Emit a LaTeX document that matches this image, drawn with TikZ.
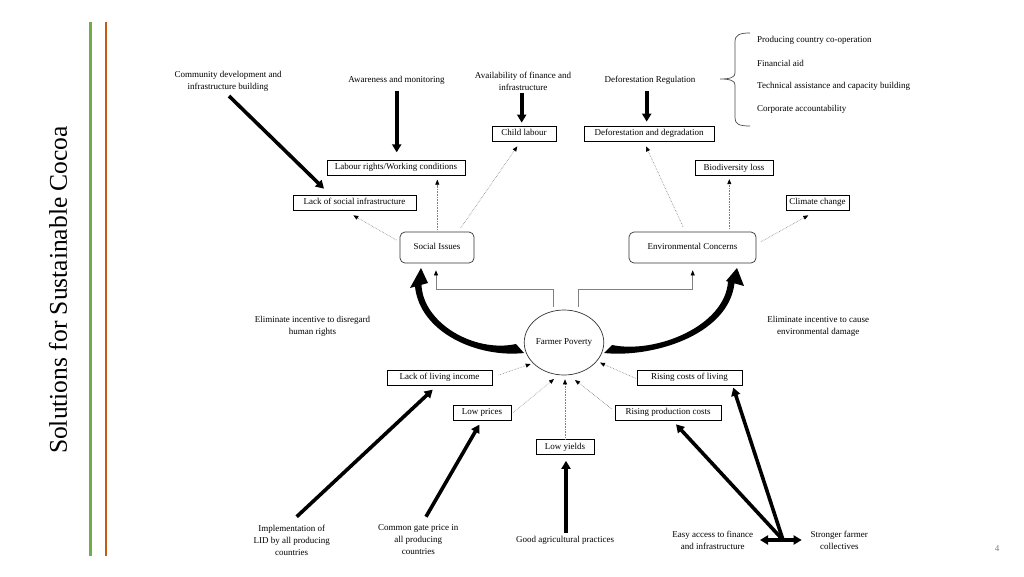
\documentclass[tikz,border=0pt]{standalone}
\usepackage{fontspec}
\setmainfont{Liberation Serif}
\usetikzlibrary{arrows.meta,shapes.geometric,calc}
\definecolor{lgreen}{RGB}{112,173,71}
\definecolor{lorange}{RGB}{197,90,17}
\begin{document}
\begin{tikzpicture}[x=1pt,y=-1pt,
  txt/.style={font=\fontsize{9}{12}\selectfont, align=center, inner sep=0pt},
  box/.style={draw=black, line width=0.7pt, fill=white, minimum height=15pt, inner sep=0pt, text height=6.3pt, text depth=1.9pt, font=\fontsize{9}{11}\selectfont},
  rbox/.style={draw=black!80, line width=0.7pt, rounded corners=5pt, minimum height=31pt, inner sep=0pt, text height=6.3pt, text depth=1.9pt, font=\fontsize{9}{11}\selectfont},
  thk/.style={line width=3.6pt, -{Triangle[length=8pt,width=9pt]}},
  dots/.style={draw=black!50, line width=0.6pt, densely dotted, -{Triangle[length=5pt,width=4pt,color=black]}},
  elb/.style={draw=black!50, line width=0.7pt, -{Triangle[length=5pt,width=4pt,color=black]}},
]
\fill[white] (0,0) rectangle (1024,576);
\useasboundingbox (0,0) rectangle (1024,576);

% side title and lines
\node[rotate=90, font=\fontsize{25.5}{30}\selectfont, inner sep=0pt] (title) at (58,290) {Solutions for Sustainable Cocoa};
\draw[lgreen, line width=2.8pt] (90.7,22) -- (90.7,556);
\draw[lorange, line width=2.8pt] (106,22) -- (106,556);
\node[font=\fontsize{9}{11}\selectfont, text=black!50] (pg) at (997,549) {4};

% top texts
\node[txt] (cd) at (228,81) {Community development and\\infrastructure building};
\node[txt] (am) at (396.5,80.5) {Awareness and monitoring};
\node[txt] (af) at (523,81) {Availability of finance and\\infrastructure};
\node[txt] (dr) at (650,80) {Deforestation Regulation};

% brace list
\draw[black!70, line width=0.7pt] (750,33) .. controls (739,33) and (735,35) .. (735,42) -- (735,73) .. controls (735,77) and (731,79) .. (720,79) .. controls (731,79) and (735,81) .. (735,85) -- (735,118) .. controls (735,124) and (739,126) .. (750,126);
\node[txt, anchor=west] (p1) at (757,40) {Producing country co-operation};
\node[txt, anchor=west] (p2) at (757,63) {Financial aid};
\node[txt, anchor=west] (p3) at (757,86.5) {Technical assistance and capacity building};
\node[txt, anchor=west] (p4) at (757,109.5) {Corporate accountability};

% boxes
\node[box, minimum width=138pt] (lr) at (396,167.5) {Labour rights/Working conditions};
\node[box, minimum width=123pt] (lsi) at (354.5,202.5) {Lack of social infrastructure};
\node[box, minimum width=64pt] (cl) at (524,133.5) {Child labour};
\node[box, minimum width=130pt] (dd) at (649,133.5) {Deforestation and degradation};
\node[box, minimum width=78pt] (bl) at (734,168) {Biodiversity loss};
\node[box, minimum width=63pt] (cc) at (817.5,202.5) {Climate change};
\node[rbox, minimum width=74pt] (si) at (437,247.5) {Social Issues};
\node[rbox, minimum width=127pt] (ec) at (692.5,247.5) {Environmental Concerns};
\node[draw=black!80, ellipse, minimum width=75pt, minimum height=65pt, inner sep=0pt, line width=0.7pt, font=\fontsize{9}{11}\selectfont] (fp) at (564,342.5) {Farmer Poverty};
\node[box, minimum width=105pt] (lli) at (439.5,377.5) {Lack of living income};
\node[box, minimum width=58pt] (lp) at (482,412.5) {Low prices};
\node[box, minimum width=58pt] (ly) at (565,447) {Low yields};
\node[box, minimum width=105pt] (rcl) at (689.5,377.5) {Rising costs of living};
\node[box, minimum width=106pt] (rpc) at (668,412.5) {Rising production costs};

% side labels
\node[txt] (el) at (312.5,326) {Eliminate incentive to disregard\\human rights};
\node[txt] (er) at (818.3,326) {Eliminate incentive to cause\\environmental damage};

% bottom texts
\node[txt] (lid) at (291.7,540) {Implementation of\\LID by all producing\\countries};
\node[txt] (cg) at (418.3,540) {Common gate price in\\all producing\\countries};
\node[txt] (gap) at (565,540) {Good agricultural practices};
\node[txt] (ea) at (712.7,540) {Easy access to finance\\and infrastructure};
\node[txt] (sf) at (839.3,540) {Stronger farmer\\collectives};

% thick arrows
\draw[thk] ($(cd)+(1,15)$) -- ($(lsi.north)+(-30.5,-6)$);
\draw[thk] ($(am)+(0.2,10)$) -- ($(lr.north)+(0.7,-7.3)$);
\draw[thk] ($(af)+(-1.3,12)$) -- ($(cl.north)+(-2.3,-3)$);
\draw[thk] ($(dr)+(-3.3,11)$) -- ($(dd.north)+(-2.3,-4)$);
\draw[thk] ($(lid)+(5,-23.3)$) -- ($(lli.south)+(-6.8,4.3)$);
\draw[thk] ($(cg)+(7.7,-23.3)$) -- ($(lp.south)+(-2.7,4.3)$);
\draw[thk] ($(gap)+(1,-7.3)$) -- ($(ly.south)+(1,6)$);
\coordinate (hub) at (783,540);
\draw[thk] (hub) -- ($(rcl.south)+(43.8,2.3)$);
\draw[thk] (hub) -- ($(rpc.south)+(8,4)$);
\draw[line width=3.6pt, {Triangle[length=8pt,width=9pt]}-{Triangle[length=8pt,width=9pt]}] ($(ea)+(47.3,0)$) -- ($(sf)+(-37.6,0)$);

% dotted arrows
\draw[dots] ($(si.west)+(-3.3,-7.5)$) -- ($(lsi.south)+(-1.2,5)$);
\draw[dots] ($(si.north)+(0.3,-2)$) -- ($(lr.south)+(41.3,4.3)$);
\draw[dots] ($(si.north)+(23.7,-3.7)$) -- ($(cl.south)+(-6.7,5)$);
\draw[dots] ($(ec.north)+(-9.5,-5)$) -- ($(dd.south)+(-3,5)$);
\draw[dots] ($(ec.north)+(36.8,-3)$) -- ($(bl.south)+(-4.7,3.3)$);
\draw[dots] ($(ec.east)+(4.7,-5.8)$) -- ($(cc.south)+(-9.2,5)$);
\draw[dots] ($(lli.east)+(6.3,-2.5)$) -- ($(fp)+(-33.3,21.5)$);
\draw[dots] ($(lp.east)+(1.7,0)$) -- ($(fp)+(-10,36.5)$);
\draw[dots] (ly.north) -- ($(fp)+(1,36.8)$);
\draw[dots] ($(rpc.north west)+(-3.3,4)$) -- ($(fp)+(11,37.5)$);
\draw[dots] ($(rcl.west)+(-1,0.8)$) -- ($(fp)+(36,20.2)$);

% elbow lines
\draw[elb] ($(fp)+(-10.7,-35.8)$) -- ++(0,-17.7) -| ($(si.south)+(-1,7)$);
\draw[elb] ($(fp)+(14.3,-35.8)$) -- ++(0,-17.7) -| ($(ec.south)+(0.2,7)$);

% curved block arrows
\fill (524,353) .. controls (478,358) and (420,333) .. (415,286.6) -- (410,288) -- (421,268) -- (428,283) -- (421.5,284.8) .. controls (423,323) and (474,353) .. (516,344) -- cycle;
\fill (604,353) .. controls (651,358) and (728,336) .. (734.5,283.4) -- (744,286) -- (737,268) -- (726,281) -- (728,281.6) .. controls (725,326) and (656,354) .. (612,345) -- cycle;
\end{tikzpicture}
\end{document}
